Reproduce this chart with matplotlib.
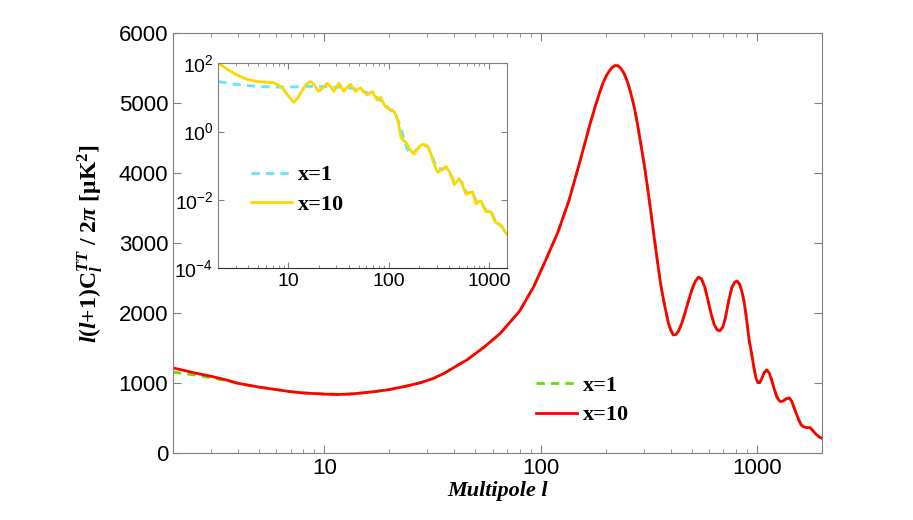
import numpy as np
import matplotlib
matplotlib.use('Agg')
import matplotlib.pyplot as plt
from matplotlib.ticker import LogLocator, FixedLocator, NullFormatter, FixedFormatter

plt.rcParams['font.family'] = ['Liberation Sans', 'DejaVu Sans']
plt.rcParams['mathtext.fontset'] = 'custom'
plt.rcParams['mathtext.rm'] = 'Liberation Serif:bold'
plt.rcParams['mathtext.it'] = 'Liberation Serif:bold:italic'
plt.rcParams['mathtext.bf'] = 'Liberation Serif:bold'

# main panel: l(l+1)C_l/2pi
ell = [2, 2.5, 3, 3.5, 4, 5, 6, 7, 8, 10, 11.5, 13, 15, 17, 20, 24, 28, 32, 36, 40,
       46, 55, 65, 80, 93, 105, 120, 135, 150, 160, 170, 180, 188, 195, 202, 210, 215,
       222, 228, 235, 243, 250, 258, 265, 271, 280, 290, 301, 310, 320, 335, 350, 360,
       373, 390, 400, 411, 422, 435, 450, 465, 480, 500, 520, 537, 555, 575, 595, 615,
       635, 655, 674, 695, 715, 740, 765, 790, 810, 830, 850, 870, 890, 905, 921, 940,
       955, 970, 990, 1010, 1030, 1055, 1080, 1110, 1140, 1170, 1200, 1240, 1280, 1320,
       1370, 1413, 1450, 1500, 1560, 1600, 1641, 1700, 1762, 1820, 1880, 1940, 2000]
cl_x10 = [1220, 1150, 1100, 1050, 1000, 945, 910, 880, 862, 845, 840, 845, 862, 880,
          910, 960, 1010, 1070, 1145, 1230, 1340, 1520, 1710, 2030, 2380, 2740, 3150,
          3600, 4100, 4420, 4720, 4980, 5160, 5300, 5400, 5480, 5515, 5540, 5535, 5500,
          5430, 5340, 5210, 5070, 4950, 4720, 4440, 4140, 3870, 3560, 3095, 2660, 2400,
          2143, 1860, 1760, 1690, 1695, 1750, 1860, 2000, 2150, 2330, 2460, 2515, 2490,
          2370, 2180, 1990, 1840, 1765, 1750, 1800, 1930, 2170, 2360, 2445, 2460, 2420,
          2330, 2190, 1990, 1810, 1620, 1470, 1345, 1220, 1080, 1010, 1010, 1070, 1150,
          1190, 1150, 1050, 930, 800, 740, 745, 780, 790, 740, 620, 480, 410, 380, 368,
          365, 320, 270, 235, 214]
cl_x1 = [1160, 1120, 1080, 1040, 995, 945, 910, 880, 862, 848, 843, 847, 862, 880,
         910, 960, 1010, 1070, 1145, 1230, 1340, 1520, 1710, 2030, 2380, 2740, 3150,
         3600, 4100, 4420, 4720, 4980, 5160, 5300, 5400, 5480, 5515, 5540, 5535, 5500,
         5430, 5340, 5210, 5070, 4950, 4720, 4440, 4140, 3870, 3560, 3095, 2660, 2400,
         2143, 1860, 1760, 1690, 1695, 1750, 1860, 2000, 2150, 2330, 2460, 2515, 2490,
         2370, 2180, 1990, 1840, 1765, 1750, 1800, 1930, 2170, 2360, 2445, 2460, 2420,
         2330, 2190, 1990, 1810, 1620, 1470, 1345, 1220, 1080, 1010, 1010, 1070, 1150,
         1190, 1150, 1050, 930, 800, 740, 745, 780, 790, 740, 620, 480, 410, 380, 368,
         365, 320, 270, 235, 214]

# inset (log-log)
ell_in10 = [2, 2.5, 3, 3.5, 4, 5, 6, 7, 8, 9, 10, 11.3, 12.5, 13.7, 15, 16.6, 18, 20,
            22, 24.4, 26.5, 28.4, 30, 31.9, 34, 35.7, 38, 41.7, 44, 46.8, 50, 52.5, 57,
            61, 65, 68.7, 73, 77, 80, 83, 88, 93, 100, 107, 113, 118, 122, 127, 132,
            140, 148, 160, 170, 179, 190, 205, 217, 230, 244, 260, 280, 307, 340, 372,
            410, 450, 480, 505, 550, 589, 640, 687, 741, 790, 832, 880, 933, 990, 1047,
            1100, 1160, 1222, 1280, 1350, 1420, 1500]
in_x10 = [100, 65, 47, 38, 33, 29, 28, 27, 23, 17, 11, 7.2, 10, 16, 24, 29, 24, 15, 19,
          26, 20, 15, 20, 26, 19, 15, 19, 24, 19, 15, 18, 19, 14, 11.7, 13.5, 14.7, 10.5,
          8.3, 9.5, 10, 7, 5.3, 4.6, 4.3, 3.8, 3.0, 2.4, 1.3, 0.69, 0.55, 0.49, 0.33,
          0.25, 0.22, 0.28, 0.38, 0.42, 0.41, 0.37, 0.25, 0.12, 0.065, 0.075, 0.095,
          0.06, 0.028, 0.035, 0.042, 0.025, 0.0144, 0.016, 0.017, 0.0076, 0.009, 0.0091,
          0.0065, 0.0044, 0.0046, 0.0044, 0.0030, 0.0022, 0.0020, 0.0019, 0.0016,
          0.0012, 0.00098]
ell_in1 = [2, 3, 4, 5, 7, 10, 15, 20, 30, 40, 50, 60, 70, 80, 90, 100, 110, 120, 130,
           140, 150, 165, 180, 200, 220, 245, 270, 300, 340, 380, 420, 460, 500, 550,
           600, 650, 700, 760, 820, 880, 950, 1050, 1150, 1250, 1350, 1500]
in_x1 = [29, 24, 22, 21, 20, 20, 21, 21, 20, 19, 17, 14, 11.5, 9, 6.5, 4.8, 3.6, 2.6,
         1.5, 0.7, 0.35, 0.22, 0.25, 0.35, 0.4, 0.36, 0.2, 0.085, 0.08, 0.085, 0.05,
         0.03, 0.04, 0.03, 0.015, 0.017, 0.014, 0.008, 0.009, 0.0065, 0.0045, 0.0045,
         0.0025, 0.0019, 0.0016, 0.001]

green = '#66dd00'
red = '#ff0000'
cyan = '#5ee8f5'
gold = '#ffd700'
spine_c = '#808080'
leg_font = dict(family='Liberation Serif', weight='bold', size=16)

fig = plt.figure(figsize=(9.13, 5.2), dpi=100)
ax = fig.add_axes([0.1895, 0.1283, 0.7108, 0.8077])
ax.plot(ell, cl_x1, '--', color=green, lw=2.0, dashes=(3, 2.2), label='x=1')
ax.plot(ell, cl_x10, '-', color=red, lw=2.0, label='x=10')
ax.set_xscale('log')
ax.set_xlim(2, 2000)
ax.set_ylim(0, 6000)
ax.set_yticks(range(0, 6001, 1000))
ax.xaxis.set_major_locator(FixedLocator([10, 100, 1000]))
ax.xaxis.set_major_formatter(FixedFormatter(['10', '100', '1000']))
ax.xaxis.set_minor_locator(LogLocator(base=10, subs=np.arange(2, 10)))
ax.xaxis.set_minor_formatter(NullFormatter())
ax.tick_params(which='both', direction='in', top=True, right=True, labelsize=16,
               color=spine_c)
ax.tick_params(which='major', length=6)
ax.tick_params(which='minor', length=3)
for s in ax.spines.values():
    s.set_color(spine_c)
ax.set_xlabel('Multipole l', fontfamily='Liberation Serif', fontweight='bold',
              fontstyle='italic', fontsize=16, labelpad=1)
ax.set_ylabel(r'$l(l{+}1)\mathrm{C}_l^{TT}\ \mathrm{/\ 2}\pi\ \mathrm{[\mu K}^2\mathrm{]}$',
              fontsize=17, labelpad=10)
ax.legend(loc='upper left', bbox_to_anchor=(0.587, 0.278), bbox_transform=fig.transFigure,
          frameon=False, prop=leg_font, handlelength=1.85, handletextpad=0.25,
          borderpad=0, borderaxespad=0, labelspacing=0.4)

ins = fig.add_axes([0.2391, 0.4846, 0.3159, 0.3937])
ins.plot(ell_in1, in_x1, '--', color=cyan, lw=2.0, dashes=(3, 2.2), label='x=1')
ins.plot(ell_in10, in_x10, '-', color=gold, lw=2.0, label='x=10')
ins.set_xscale('log')
ins.set_yscale('log')
ins.set_xlim(2, 1500)
ins.set_ylim(1e-4, 1e2)
ins.xaxis.set_major_locator(FixedLocator([10, 100, 1000]))
ins.xaxis.set_major_formatter(FixedFormatter(['10', '100', '1000']))
ins.xaxis.set_minor_locator(LogLocator(base=10, subs=np.arange(2, 10)))
ins.xaxis.set_minor_formatter(NullFormatter())
ins.yaxis.set_major_locator(FixedLocator([1e-4, 1e-2, 1e0, 1e2]))
ins.yaxis.set_major_formatter(FixedFormatter([r'$\mathregular{10^{-4}}$', r'$\mathregular{10^{-2}}$',
                                              r'$\mathregular{10^{0}}$', r'$\mathregular{10^{2}}$']))
ins.yaxis.set_minor_locator(FixedLocator([]))
ins.tick_params(which='both', direction='in', top=True, right=True, labelsize=14,
                color=spine_c)
ins.tick_params(which='major', length=4)
ins.tick_params(which='minor', length=2)
for s in ins.spines.values():
    s.set_color(spine_c)
ins.spines['bottom'].set_color('#303030')
ins.legend(loc='upper left', bbox_to_anchor=(0.275, 0.683), bbox_transform=fig.transFigure,
           frameon=False, prop=leg_font, handlelength=1.85, handletextpad=0.25,
           borderpad=0, borderaxespad=0, labelspacing=0.4)

fig.savefig('out.png', dpi=100)
